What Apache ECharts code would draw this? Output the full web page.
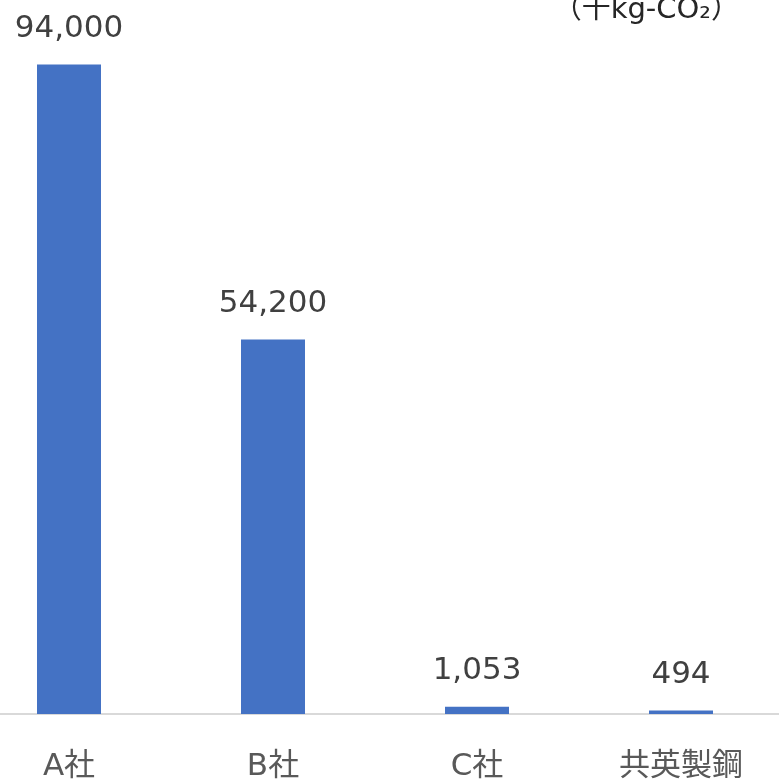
<!DOCTYPE html>
<html><head><meta charset="utf-8">
<script src="https://cdn.jsdelivr.net/npm/echarts@6/dist/echarts.min.js"></script>
<style>html,body{margin:0;padding:0;background:#fff}#c{width:779px;height:779px}</style>
</head><body><div id="c"></div>
<script>
const categories = ['A社', 'B社', 'C社', '共英製鋼'];
const values = [94000, 54200, 1053, 494];
const unitLabel = '（千kg-CO₂）';

const FONT = "'DejaVu Sans', 'Noto Sans CJK JP', sans-serif";

const chart = echarts.init(document.getElementById('c'), null, {renderer: 'canvas'});
chart.setOption({
  animation: false,
  backgroundColor: '#ffffff',
  grid: {left: -33, right: -4, top: 23, bottom: 65, containLabel: false, outerBoundsMode: 'none'},
  xAxis: {
    type: 'category', data: categories,
    axisLine: {show: true, lineStyle: {color: '#d9d9d9', width: 2}},
    axisTick: {show: false},
    axisLabel: {color: '#595959', margin: 37, interval: 0, fontSize: 31, fontFamily: FONT}
  },
  yAxis: {type: 'value', min: 0, max: 100000, show: false, splitLine: {show: false}},
  series: [{
    type: 'bar', data: values, barWidth: 64,
    itemStyle: {color: '#4472c4'},
    label: {
      show: true, position: 'top', distance: 20, color: '#404040', fontSize: 31,
      fontFamily: FONT,
      formatter: p => p.value.toLocaleString('en-US')
    }
  }],
  graphic: [{
    type: 'text', x: 740, y: 10,
    style: {text: unitLabel, fill: '#262626', fontSize: 29, fontFamily: FONT, align: 'right', verticalAlign: 'middle'}
  }]
});
</script></body></html>
